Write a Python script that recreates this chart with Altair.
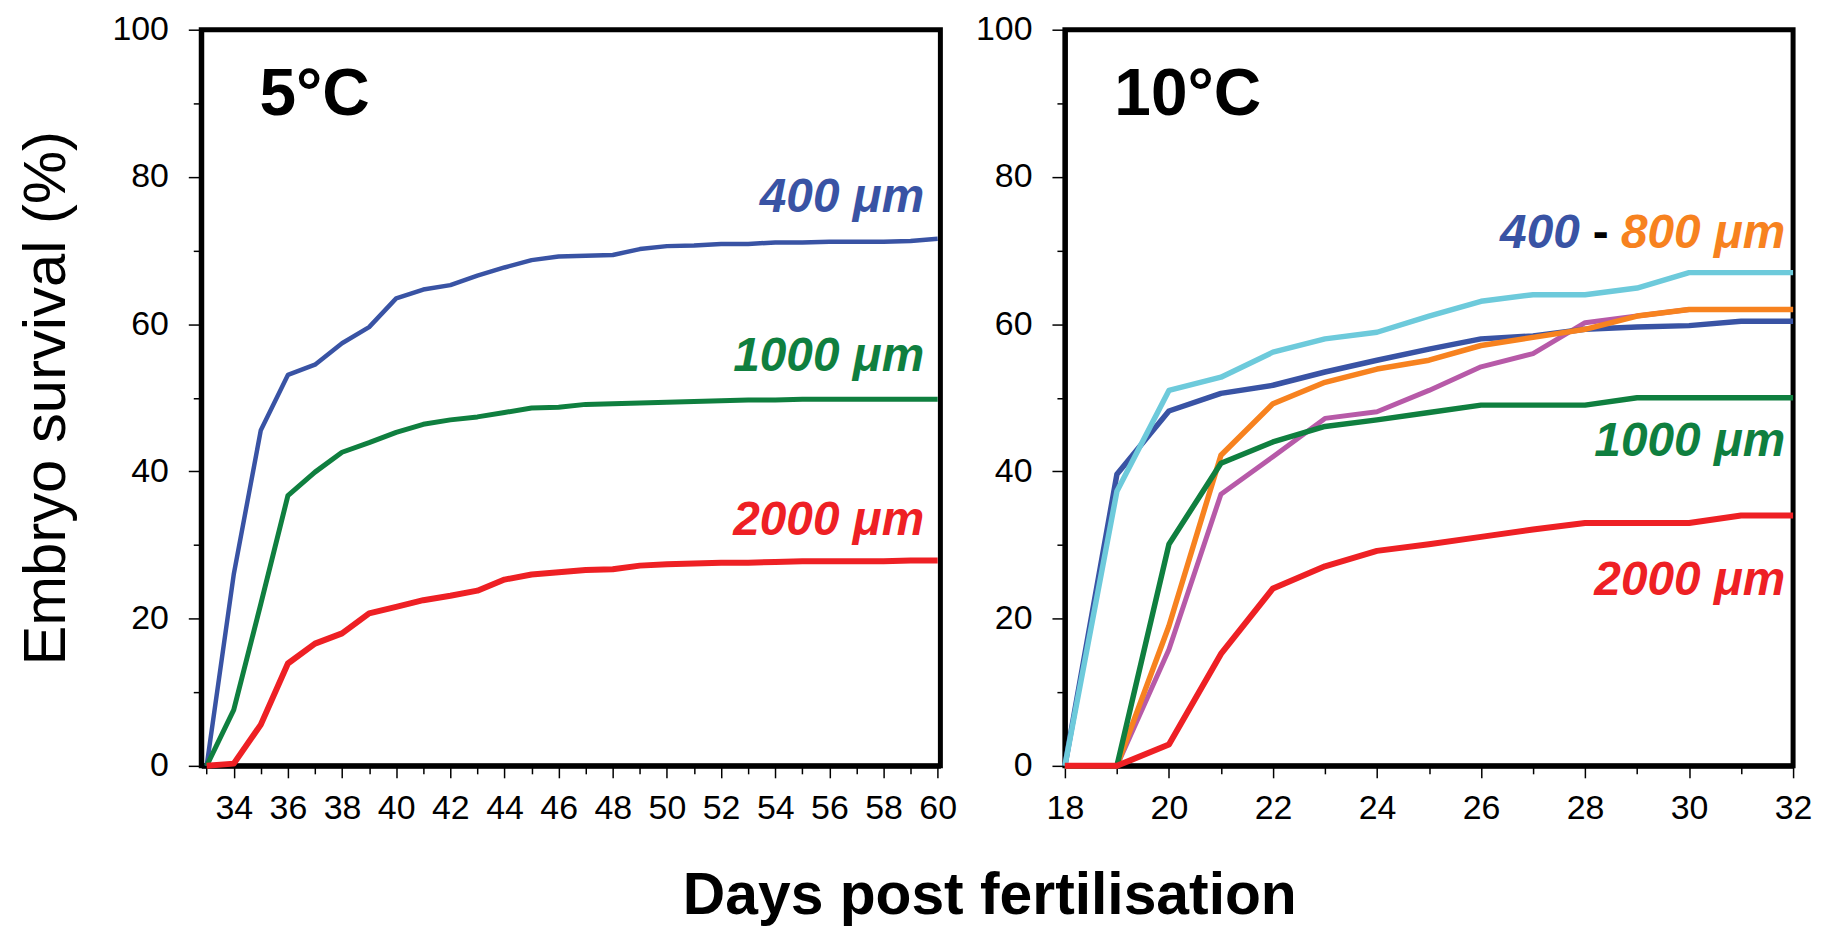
import altair as alt
import pandas as pd

# ---------------- data ----------------
days_5 = list(range(33, 61))
surv_5_400 = [0, 26, 45.6, 53.1, 54.5, 57.4, 59.6, 63.5, 64.7, 65.3, 66.6, 67.7, 68.7, 69.2,
              69.3, 69.4, 70.2, 70.6, 70.7, 70.9, 70.9, 71.1, 71.1, 71.2, 71.2, 71.2, 71.3, 71.6]
surv_5_1000 = [0, 7.6, 22, 36.7, 39.9, 42.6, 43.9, 45.3, 46.4, 47.0, 47.4, 48.0, 48.6, 48.7,
               49.1, 49.2, 49.3, 49.4, 49.5, 49.6, 49.7, 49.7, 49.8, 49.8, 49.8, 49.8, 49.8, 49.8]
surv_5_2000 = [0, 0.3, 5.6, 13.9, 16.6, 18.0, 20.7, 21.6, 22.5, 23.1, 23.8, 25.3, 26.0, 26.3,
               26.6, 26.7, 27.2, 27.4, 27.5, 27.6, 27.6, 27.7, 27.8, 27.8, 27.8, 27.8, 27.9, 27.9]

days_10 = list(range(18, 33))
surv_10_400 = [0, 39.6, 48.2, 50.6, 51.7, 53.5, 55.1, 56.6, 58.0, 58.4, 59.3, 59.6, 59.8, 60.4, 60.4]
surv_10_600 = [0, 37.3, 51.0, 52.8, 56.2, 58.0, 58.9, 61.1, 63.1, 64.0, 64.0, 64.9, 67.0, 67.0, 67.0]
surv_10_700 = [0, 0, 15.8, 36.9, 42.0, 47.2, 48.1, 51.0, 54.2, 56.0, 60.2, 61.1, 62.0, 62.0, 62.0]
surv_10_800 = [0, 0, 19.0, 42.2, 49.2, 52.1, 53.9, 55.1, 57.1, 58.2, 59.3, 61.1, 62.0, 62.0, 62.0]
surv_10_1000 = [0, 0, 30.1, 41.1, 44.0, 46.1, 47.0, 48.0, 49.0, 49.0, 49.0, 50.0, 50.0, 50.0, 50.0]
surv_10_2000 = [0, 0, 2.9, 15.2, 24.1, 27.1, 29.2, 30.1, 31.1, 32.1, 33.0, 33.0, 33.0, 34.0, 34.0]

panel_titles = ["5°C", "10°C"]
label_texts_5 = ["400 μm", "1000 μm", "2000 μm"]
label_texts_10 = ["400", "-", "800 μm", "1000 μm", "2000 μm"]
# annotation anchors in data units (day, survival)
label_day_5 = [59.5, 59.5, 59.5]
label_surv_5 = [75.3, 53.7, 31.3]
label_day_10 = [27.9, 28.3, 31.85, 31.85, 31.85]
label_surv_10 = [70.4, 70.4, 70.4, 42.1, 23.2]
title_pos_5 = (34.95, 88.4)
title_pos_10 = (18.95, 88.4)

# ---------------- styles ----------------
C_BLUE = "#3953a4"
C_GREEN = "#0f7f3f"
C_RED = "#ee2024"
C_ORANGE = "#f7821f"
C_CYAN = "#6dcadb"
C_PURPLE = "#b75aa8"
FONT = "Liberation Sans"

W_LEFT, W_RIGHT, H = 742, 731, 739


def x_axis():
    return alt.Axis(
        title=None, values=list(range(0, 100)), grid=False, format="d",
        tickSize={"condition": {"test": "datum.value % 2 != 0", "value": 8}, "value": 12},
        labelExpr="datum.value % 2 == 0 ? datum.label : ''",
        labelFlush=False, labelOverlap=False, labelPadding=14,
    )


def y_axis(title):
    kw = dict(title=title) if title else dict(title=None)
    return alt.Axis(
        values=list(range(0, 101, 10)), grid=False, format="d",
        tickSize={"condition": {"test": "datum.value % 20 != 0", "value": 8}, "value": 13},
        labelExpr="datum.value % 20 == 0 ? datum.label : ''",
        labelOverlap=False, labelPadding=20,
        titleFontSize=60, titleFontWeight="normal", titleFont=FONT, titleColor="black",
        titlePadding=35,
        **kw,
    )


def line_layer(days, vals, color, width, xdom, ytitle):
    df = pd.DataFrame({"day": days, "surv": vals})
    return alt.Chart(df).mark_line(color=color, strokeWidth=width, strokeJoin="round").encode(
        x=alt.X("day:Q", scale=alt.Scale(domain=xdom, nice=False, zero=False), axis=x_axis()),
        y=alt.Y("surv:Q", scale=alt.Scale(domain=[0, 100], nice=False), axis=y_axis(ytitle)),
    )


def text_layer(day, surv, text, color, size, style, xdom, ytitle, align="right"):
    df = pd.DataFrame({"day": [day], "surv": [surv], "t": [text]})
    return alt.Chart(df).mark_text(
        color=color, font=FONT, fontSize=size, fontWeight="bold", fontStyle=style,
        align=align, baseline="alphabetic",
    ).encode(
        x=alt.X("day:Q", scale=alt.Scale(domain=xdom, nice=False, zero=False), axis=x_axis()),
        y=alt.Y("surv:Q", scale=alt.Scale(domain=[0, 100], nice=False), axis=y_axis(ytitle)),
        text="t:N",
    )


xdom5 = [32.8, 60.1]
yt = "Embryo survival (%)"
left = alt.layer(
    line_layer(days_5, surv_5_400, C_BLUE, 4.5, xdom5, yt),
    line_layer(days_5, surv_5_1000, C_GREEN, 5, xdom5, yt),
    line_layer(days_5, surv_5_2000, C_RED, 6, xdom5, yt),
    text_layer(title_pos_5[0], title_pos_5[1], panel_titles[0], "black", 66, "normal", xdom5, yt, "left"),
    text_layer(label_day_5[0], label_surv_5[0], label_texts_5[0], C_BLUE, 48, "italic", xdom5, yt),
    text_layer(label_day_5[1], label_surv_5[1], label_texts_5[1], C_GREEN, 48, "italic", xdom5, yt),
    text_layer(label_day_5[2], label_surv_5[2], label_texts_5[2], C_RED, 48, "italic", xdom5, yt),
).properties(width=W_LEFT, height=H)

xdom10 = [18, 32]
right = alt.layer(
    line_layer(days_10, surv_10_700, C_PURPLE, 5, xdom10, None),
    line_layer(days_10, surv_10_400, C_BLUE, 5.5, xdom10, None),
    line_layer(days_10, surv_10_600, C_CYAN, 5.5, xdom10, None),
    line_layer(days_10, surv_10_800, C_ORANGE, 5.5, xdom10, None),
    line_layer(days_10, surv_10_1000, C_GREEN, 5.5, xdom10, None),
    line_layer(days_10, surv_10_2000, C_RED, 6, xdom10, None),
    text_layer(title_pos_10[0], title_pos_10[1], panel_titles[1], "black", 66, "normal", xdom10, None, "left"),
    text_layer(label_day_10[0], label_surv_10[0], label_texts_10[0], C_BLUE, 48, "italic", xdom10, None),
    text_layer(label_day_10[1], label_surv_10[1], label_texts_10[1], "black", 48, "normal", xdom10, None, "center"),
    text_layer(label_day_10[2], label_surv_10[2], label_texts_10[2], C_ORANGE, 48, "italic", xdom10, None),
    text_layer(label_day_10[3], label_surv_10[3], label_texts_10[3], C_GREEN, 48, "italic", xdom10, None),
    text_layer(label_day_10[4], label_surv_10[4], label_texts_10[4], C_RED, 48, "italic", xdom10, None),
).properties(width=W_RIGHT, height=H)

chart = alt.hconcat(left, right, spacing=13).properties(
    title=alt.TitleParams(
        "Days post fertilisation", orient="bottom", anchor="middle",
        font=FONT, fontSize=59, fontWeight="bold", color="black", offset=39, dx=76,
    ),
    padding={"left": 5, "top": 0, "right": 0, "bottom": 0},
).configure_view(
    stroke="black", strokeWidth=5,
).configure_axis(
    domainColor="black", domainWidth=5, tickColor="black", tickWidth=1.5,
    labelFont=FONT, labelFontSize=34, labelColor="black",
)

chart.save("out.html", embed_options={"renderer": "svg", "actions": False})
